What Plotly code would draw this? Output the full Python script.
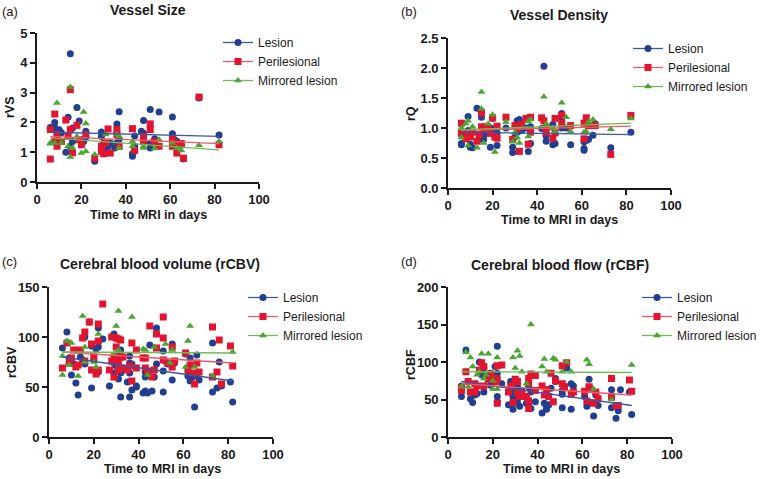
import plotly.graph_objects as go

# ---------------- DATA ----------------
series_names = ["Lesion", "Perilesional", "Mirrored lesion"]
panel_titles = ["Vessel Size", "Vessel Density", "Cerebral blood volume (rCBV)", "Cerebral blood flow (rCBF)"]
panel_labels = ["(a)", "(b)", "(c)", "(d)"]
y_titles = ["rVS", "rQ", "rCBV", "rCBF"]
x_title = "Time to MRI in days"
x_ticks = [0, 20, 40, 60, 80, 100]
y_ticks_a = [0, 1, 2, 3, 4, 5]
y_ticks_b = [0.0, 0.5, 1.0, 1.5, 2.0, 2.5]
y_ticks_c = [0, 50, 100, 150]
y_ticks_d = [0, 50, 100, 150, 200]
trend_x = [6, 82]

# (a) Vessel size
a_les_x = [6, 6, 8, 8, 9, 9, 10, 10, 11, 13, 14, 15, 15, 16, 16, 18, 19, 20, 21, 22, 22, 26, 29, 29, 30, 31, 32, 32, 33, 35, 36, 36, 37, 37, 43, 43, 44, 44, 47, 48, 48, 51, 51, 51, 53, 55, 61, 61, 62, 63, 63, 65, 66, 73, 82]
a_les_y = [1.8, 1.83, 2.0, 1.83, 1.65, 1.5, 1.36, 1.75, 1.65, 1.0, 2.17, 4.3, 1.2, 1.81, 1.36, 2.5, 2.05, 1.33, 1.36, 1.7, 1.5, 0.7, 1.68, 1.53, 1.31, 1.03, 1.2, 1.0, 1.31, 1.14, 1.95, 1.31, 2.36, 1.44, 0.95, 0.86, 1.54, 1.2, 1.7, 1.64, 2.06, 2.43, 1.31, 1.14, 1.45, 2.35, 2.18, 1.62, 1.42, 1.36, 1.36, 1.23, 0.77, 2.82, 1.58]
a_per_x = [6, 6, 8, 8, 9, 9, 11, 13, 14, 15, 15, 16, 18, 19, 20, 22, 26, 29, 29, 30, 31, 32, 33, 36, 36, 37, 43, 44, 48, 48, 51, 51, 53, 55, 61, 61, 62, 63, 65, 66, 73, 82]
a_per_y = [0.77, 1.76, 2.28, 1.36, 1.59, 1.2, 1.36, 2.08, 1.53, 3.1, 1.76, 0.98, 1.9, 1.42, 1.25, 1.59, 0.8, 1.2, 1.03, 0.95, 1.31, 1.78, 0.97, 1.76, 1.59, 1.2, 1.79, 1.06, 1.36, 1.53, 1.95, 1.76, 1.36, 1.2, 1.44, 1.2, 1.31, 0.97, 1.29, 0.8, 2.85, 1.25]
a_mir_x = [6, 6, 8, 9, 11, 14, 15, 15, 16, 18, 20, 21, 22, 22, 26, 31, 36, 37, 37, 43, 43, 48, 48, 53, 55, 61, 63, 65, 73, 82]
a_mir_y = [1.31, 1.28, 1.31, 2.65, 1.31, 1.2, 3.19, 0.84, 1.14, 1.53, 0.97, 2.35, 1.96, 1.03, 0.92, 1.59, 1.59, 1.53, 1.14, 1.2, 1.36, 1.2, 1.14, 1.12, 1.42, 1.31, 1.14, 1.06, 1.23, 1.36]
a_trend_les = [1.67, 1.53]
a_trend_per = [1.53, 1.29]
a_trend_mir = [1.48, 1.08]

# (b) Vessel density
b_les_x = [6, 6, 8, 9, 9, 10, 10, 11, 13, 14, 15, 15, 16, 16, 18, 19, 20, 20, 22, 22, 26, 29, 29, 30, 31, 32, 31, 32, 33, 35, 36, 37, 37, 43, 42, 44, 44, 47, 47, 48, 51, 51, 51, 53, 55, 61, 61, 61, 62, 63, 65, 66, 73, 82]
b_les_y = [0.74, 0.72, 0.85, 1.19, 0.96, 0.73, 0.68, 0.67, 1.33, 0.81, 1.28, 1.18, 0.88, 0.81, 0.93, 0.68, 1.16, 0.99, 0.71, 0.92, 1.0, 0.68, 0.59, 0.85, 1.12, 1.14, 0.93, 0.95, 0.96, 1.0, 0.61, 1.02, 0.74, 2.03, 0.99, 0.87, 0.78, 0.72, 1.06, 0.74, 1.24, 1.17, 1.0, 1.0, 0.72, 0.77, 0.63, 0.66, 0.79, 0.81, 0.88, 1.07, 0.67, 0.93]
b_per_x = [6, 6, 8, 8, 10, 11, 13, 14, 15, 15, 16, 17, 18, 19, 20, 21, 22, 22, 26, 29, 30, 31, 32, 33, 35, 36, 37, 37, 42, 43, 44, 44, 47, 48, 48, 51, 51, 55, 61, 61, 62, 63, 66, 73, 82]
b_per_y = [1.08, 0.91, 0.92, 0.82, 0.85, 0.93, 0.78, 0.89, 1.25, 1.02, 0.99, 1.02, 1.01, 0.91, 1.17, 0.85, 1.03, 0.83, 1.18, 0.81, 1.04, 0.99, 0.61, 1.06, 1.16, 0.73, 1.18, 0.93, 1.17, 1.12, 1.01, 0.93, 0.83, 1.16, 0.92, 1.21, 1.08, 1.04, 1.08, 0.82, 1.17, 1.04, 1.04, 0.56, 1.21]
b_mir_x = [6, 6, 8, 9, 9, 11, 13, 15, 15, 16, 18, 20, 21, 26, 29, 30, 31, 32, 36, 36, 37, 43, 44, 47, 48, 51, 53, 55, 61, 62, 63, 65, 73, 82]
b_mir_y = [1.0, 0.84, 1.07, 1.12, 0.71, 1.02, 0.67, 1.6, 1.32, 0.75, 1.07, 1.22, 0.6, 1.1, 0.77, 0.92, 0.84, 0.75, 0.86, 1.11, 1.14, 1.52, 1.07, 0.99, 0.94, 1.42, 1.18, 0.94, 0.93, 0.94, 1.1, 1.14, 0.98, 1.16]
b_trend_les = [0.93, 0.89]
b_trend_per = [0.96, 1.03]
b_trend_mir = [0.97, 1.08]

# (c) Cerebral blood volume
c_les_x = [6, 8, 9, 10, 11, 12, 13, 14, 15, 16, 16, 18, 19, 19, 20, 21, 22, 22, 22, 24, 27, 29, 29, 29, 30, 30, 31, 31, 32, 32, 32, 32, 33, 35, 36, 36, 36, 36, 37, 37, 39, 39, 42, 43, 43, 43, 44, 45, 46, 47, 48, 48, 51, 51, 51, 52, 53, 55, 55, 56, 61, 62, 63, 63, 64, 65, 66, 66, 67, 73, 73, 75, 76, 77, 81, 82]
c_les_y = [89, 105, 79, 62, 73, 54, 42, 80, 77, 100, 73, 115, 49, 91, 77, 88, 90, 109, 65, 98, 51, 103, 74, 64, 78, 71, 58, 84, 80, 40, 87, 64, 69, 55, 81, 74, 40, 64, 73, 47, 50, 51, 44, 46, 65, 60, 44, 92, 46, 60, 73, 109, 45, 66, 86, 76, 73, 57, 93, 74, 83, 61, 79, 56, 60, 30, 82, 62, 57, 45, 94, 49, 75, 51, 55, 35]
c_per_x = [6, 8, 9, 10, 11, 12, 13, 14, 15, 16, 16, 18, 19, 19, 20, 21, 22, 22, 22, 24, 27, 28, 28, 29, 29, 30, 30, 31, 31, 31, 32, 32, 33, 33, 35, 36, 37, 37, 39, 39, 42, 43, 43, 44, 45, 46, 47, 48, 48, 51, 51, 51, 53, 55, 55, 56, 61, 62, 63, 64, 65, 66, 67, 73, 73, 75, 76, 77, 81, 82]
c_per_y = [69, 94, 74, 79, 87, 70, 72, 87, 99, 105, 76, 115, 67, 93, 80, 63, 113, 96, 67, 133, 67, 76, 100, 80, 60, 90, 99, 67, 98, 74, 97, 80, 69, 80, 67, 71, 56, 94, 87, 69, 79, 69, 79, 66, 111, 60, 67, 89, 103, 120, 99, 77, 74, 90, 70, 76, 84, 67, 72, 64, 53, 74, 65, 110, 60, 65, 97, 53, 91, 71]
c_mir_x = [6, 6, 8, 9, 10, 13, 15, 16, 16, 20, 21, 22, 29, 30, 31, 31, 37, 42, 43, 44, 47, 52, 54, 55, 61, 62, 63, 65, 73, 82]
c_mir_y = [81, 62, 96, 72, 94, 61, 121, 75, 90, 75, 70, 103, 83, 111, 126, 87, 120, 88, 87, 62, 90, 93, 74, 87, 70, 96, 111, 70, 61, 85]
c_trend_les = [80, 56]
c_trend_per = [85, 74]
c_trend_mir = [85, 84]

# (d) Cerebral blood flow
d_les_x = [6, 6, 8, 9, 10, 11, 12, 13, 14, 15, 16, 16, 18, 19, 19, 20, 21, 22, 22, 22, 22, 24, 27, 28, 29, 29, 30, 30, 31, 31, 31, 32, 32, 32, 33, 35, 36, 36, 37, 37, 39, 42, 43, 44, 44, 45, 46, 48, 48, 51, 51, 51, 52, 53, 55, 55, 56, 61, 62, 63, 64, 65, 66, 67, 73, 73, 75, 76, 77, 81, 82]
d_les_y = [54, 68, 116, 74, 51, 46, 56, 58, 100, 83, 92, 60, 80, 85, 69, 83, 94, 121, 54, 85, 47, 71, 43, 74, 54, 37, 63, 57, 67, 45, 50, 60, 41, 54, 62, 45, 42, 67, 60, 38, 47, 32, 45, 39, 37, 43, 65, 78, 74, 39, 62, 57, 67, 92, 37, 71, 68, 54, 41, 77, 46, 28, 56, 42, 63, 39, 25, 35, 63, 60, 30]
d_per_x = [6, 6, 8, 9, 10, 12, 12, 13, 14, 15, 16, 16, 18, 19, 19, 20, 21, 21, 22, 22, 22, 24, 27, 28, 29, 30, 31, 31, 32, 33, 35, 36, 36, 36, 36, 37, 39, 39, 42, 43, 44, 45, 46, 47, 48, 51, 51, 52, 53, 55, 56, 61, 62, 63, 63, 65, 66, 67, 73, 73, 75, 76, 81, 82]
d_per_y = [62, 66, 87, 74, 60, 60, 71, 68, 89, 99, 94, 68, 77, 84, 79, 77, 78, 74, 45, 95, 77, 96, 60, 68, 46, 77, 74, 59, 54, 58, 54, 48, 78, 72, 38, 84, 82, 62, 68, 56, 63, 54, 85, 47, 75, 95, 71, 67, 99, 57, 60, 61, 48, 65, 67, 45, 60, 51, 78, 54, 42, 42, 76, 61]
d_mir_x = [6, 8, 9, 10, 11, 13, 14, 15, 16, 17, 18, 20, 20, 22, 22, 29, 30, 31, 32, 33, 35, 37, 42, 43, 44, 47, 48, 51, 53, 55, 62, 63, 65, 73, 82]
d_mir_y = [67, 113, 67, 106, 94, 83, 87, 111, 78, 83, 111, 75, 64, 106, 64, 106, 92, 115, 108, 87, 71, 150, 94, 104, 87, 105, 103, 87, 100, 87, 103, 97, 64, 50, 96]
d_trend_les = [74, 42]
d_trend_per = [71, 56]
d_trend_mir = [87, 86]

# ---------------- STYLE ----------------
colors = ["#213f8e", "#e2142f", "#4aa532"]
line_colors = ["#3a57a3", "#ec5a68", "#6cbc55"]
symbols = ["circle", "square", "triangle-up"]
sizes = [7, 7, 7]
FONT = "Liberation Sans, Arial, sans-serif"
INK = "#1a1a1a"

W, H = 760, 479
def px(x):
    return x / W
def py(y):
    return 1 - y / H

panels = [
    dict(xs=[a_les_x, a_per_x, a_mir_x], ys=[a_les_y, a_per_y, a_mir_y], tr=[a_trend_les, a_trend_per, a_trend_mir],
         yt=y_ticks_a, yfmt=None, xdom=[37, 259], ydom=[182, 33],
         title=(148, 10), lab=(10, 11), xt=(148, 215), ytp=(10, 107), leg=(218, 28)),
    dict(xs=[b_les_x, b_per_x, b_mir_x], ys=[b_les_y, b_per_y, b_mir_y], tr=[b_trend_les, b_trend_per, b_trend_mir],
         yt=y_ticks_b, yfmt=".1f", xdom=[448, 671], ydom=[188, 38],
         title=(559, 15), lab=(409, 11), xt=(559, 220), ytp=(411, 113), leg=(628, 34)),
    dict(xs=[c_les_x, c_per_x, c_mir_x], ys=[c_les_y, c_per_y, c_mir_y], tr=[c_trend_les, c_trend_per, c_trend_mir],
         yt=y_ticks_c, yfmt=None, xdom=[49, 273], ydom=[437, 287],
         title=(160, 264), lab=(9, 261), xt=(162, 469), ytp=(12, 362), leg=(243, 283)),
    dict(xs=[d_les_x, d_per_x, d_mir_x], ys=[d_les_y, d_per_y, d_mir_y], tr=[d_trend_les, d_trend_per, d_trend_mir],
         yt=y_ticks_d, yfmt=None, xdom=[448, 672], ydom=[437, 287],
         title=(560, 265), lab=(409, 261), xt=(561, 469), ytp=(411, 364), leg=(637, 283)),
]

fig = go.Figure()
annotations = []
layout = {}

for i, p in enumerate(panels):
    k = "" if i == 0 else str(i + 1)
    xa, ya = "x" + k, "y" + k
    leg = "legend" + k
    for s in range(3):
        fig.add_trace(go.Scatter(
            x=p["xs"][s], y=p["ys"][s], mode="markers", xaxis=xa, yaxis=ya,
            marker=dict(color=colors[s], symbol=symbols[s], size=sizes[s], line=dict(width=0)),
            showlegend=False, cliponaxis=False, hoverinfo="x+y"))
    for s in range(3):
        fig.add_trace(go.Scatter(
            x=trend_x, y=p["tr"][s], mode="lines", xaxis=xa, yaxis=ya,
            line=dict(color=line_colors[s], width=1.3), showlegend=False, hoverinfo="skip"))
    for s in range(3):
        fig.add_trace(go.Scatter(
            x=[None], y=[None], mode="lines+markers", xaxis=xa, yaxis=ya, name=series_names[s],
            marker=dict(color=colors[s], symbol=symbols[s], size=7),
            line=dict(color=line_colors[s], width=1.3), legend=leg, showlegend=True))
    x0, x1 = p["xdom"]
    yb, yt = p["ydom"]
    layout["xaxis" + k] = dict(
        domain=[px(x0), px(x1)], range=[0, 100], anchor=ya, tickvals=x_ticks,
        showline=True, linecolor=INK, linewidth=1.6, ticks="outside", ticklen=5, tickwidth=1.6,
        tickcolor=INK, showgrid=False, zeroline=False, automargin=False,
        tickfont=dict(family=FONT, size=13, color=INK, weight="bold"))
    layout["yaxis" + k] = dict(
        domain=[py(yb), py(yt)], range=[0, p["yt"][-1]], anchor=xa, tickvals=p["yt"],
        tickformat=p["yfmt"] if p["yfmt"] else None,
        showline=True, linecolor=INK, linewidth=1.6, ticks="outside", ticklen=5, tickwidth=1.6,
        tickcolor=INK, showgrid=False, zeroline=False, automargin=False,
        tickfont=dict(family=FONT, size=13, color=INK, weight="bold"))
    lx, ly = p["leg"]
    layout[leg] = dict(x=px(lx), y=py(ly), xanchor="left", yanchor="top",
                       bgcolor="rgba(0,0,0,0)", borderwidth=0, itemwidth=30,
                       font=dict(family=FONT, size=12, color=INK), tracegroupgap=0)
    annotations.append(dict(text=panel_titles[i], x=px(p["title"][0]), y=py(p["title"][1]),
                            xref="paper", yref="paper", showarrow=False, xanchor="center", yanchor="middle",
                            font=dict(family=FONT, size=14, color=INK, weight="bold")))
    annotations.append(dict(text=panel_labels[i], x=px(p["lab"][0]), y=py(p["lab"][1]),
                            xref="paper", yref="paper", showarrow=False, xanchor="center", yanchor="middle",
                            font=dict(family=FONT, size=13, color=INK)))
    annotations.append(dict(text=x_title, x=px(p["xt"][0]), y=py(p["xt"][1]),
                            xref="paper", yref="paper", showarrow=False, xanchor="center", yanchor="middle",
                            font=dict(family=FONT, size=12.5, color=INK, weight="bold")))
    annotations.append(dict(text=y_titles[i], x=px(p["ytp"][0]), y=py(p["ytp"][1]), textangle=-90,
                            xref="paper", yref="paper", showarrow=False, xanchor="center", yanchor="middle",
                            font=dict(family=FONT, size=12.5, color=INK, weight="bold")))

fig.update_layout(**layout)
fig.update_layout(width=W, height=H, margin=dict(l=0, r=0, t=0, b=0, autoexpand=False),
                  paper_bgcolor="white", plot_bgcolor="white", hovermode=False,
                  annotations=annotations, font=dict(family=FONT, color=INK))

fig.write_html("out.html", config={"displayModeBar": False},
               post_script="document.body.style.margin='0';document.body.style.padding='0';document.body.style.overflow='hidden';")
